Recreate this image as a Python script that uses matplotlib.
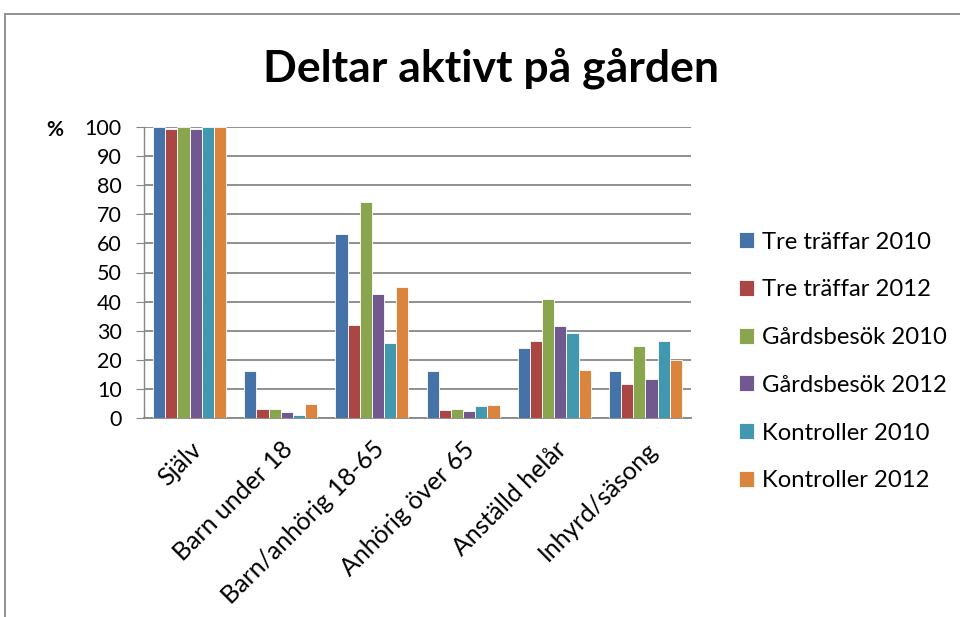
import numpy as np
import matplotlib.pyplot as plt
from matplotlib.patches import Rectangle

plt.rcParams['font.family'] = ['Lato', 'DejaVu Sans']

# ── Data ─────────────────────────────────────────────────────────────────────
categories = ['Själv', 'Barn under 18', 'Barn/anhörig 18-65', 'Anhörig över 65',
              'Anställd helår', 'Inhyrd/säsong']
series_names = ['Tre träffar 2010', 'Tre träffar 2012', 'Gårdsbesök 2010',
                'Gårdsbesök 2012', 'Kontroller 2010', 'Kontroller 2012']

tre_2010 = [100, 16.0, 63.3, 16.0, 24.0, 16.1]
tre_2012 = [99.4, 3.2, 31.9, 2.8, 26.6, 11.6]
gard_2010 = [100, 3.2, 74.3, 3.2, 40.9, 24.9]
gard_2012 = [99.4, 2.1, 42.6, 2.3, 31.6, 13.3]
kontr_2010 = [100, 0.9, 25.7, 4.1, 29.3, 26.6]
kontr_2012 = [100, 4.9, 45.1, 4.6, 16.4, 19.9]
series = [tre_2010, tre_2012, gard_2010, gard_2012, kontr_2010, kontr_2012]

colors = ['#4572A7', '#AA4643', '#89A54E', '#71588F', '#4198AF', '#DB843D']

# ── Figur ────────────────────────────────────────────────────────────────────
fig = plt.figure(figsize=(9.6, 6.17), dpi=100)
ax = fig.add_axes([144/960, 1 - 418/617, 547/960, 291/617])

x = np.arange(len(categories))
n = len(series)
bw = 0.8 / n
for i, (vals, c, name) in enumerate(zip(series, colors, series_names)):
    ax.bar(x - 0.4 + bw*(i + 0.5), vals, width=bw, color=c,
           edgecolor='#ffffff', linewidth=0.6, label=name, zorder=3)

ax.set_xlim(-0.5, len(categories) - 0.5)
ax.set_ylim(0, 100)
ax.set_yticks(range(0, 101, 10))
ax.yaxis.grid(True, color='#878787', linewidth=1.3, zorder=0)
ax.set_axisbelow(True)
for s in ['top', 'right']:
    ax.spines[s].set_visible(False)
ax.spines['left'].set_color('#878787')
ax.spines['bottom'].set_color('#878787')
ax.spines['left'].set_linewidth(1.0)
ax.spines['bottom'].set_linewidth(1.3)
ax.tick_params(axis='y', length=6, color='#878787', labelsize=15.5, pad=10)
ax.tick_params(axis='x', length=0, labelsize=18, pad=14)
ax.set_xticks(x)
ax.set_xticklabels(categories, rotation=45, ha='right', rotation_mode='anchor')

fig.text(55/960, 1 - 130/617, '%', fontsize=15, fontweight='bold', ha='center', va='center')

fig.text(491/960, 1 - 68/617, 'Deltar aktivt på gården', fontsize=32,
         fontweight='bold', ha='center', va='center')

# Legend
leg = fig.legend(loc='upper left', bbox_to_anchor=(729/960, 1 - 222/617),
                 frameon=False, fontsize=17.2, handlelength=0.65, handleheight=0.65,
                 handletextpad=0.35, labelspacing=1.12, borderaxespad=0)

# Chart frame (right and bottom edges fall outside the picture)
fig.patches.append(Rectangle((5/960, -0.05), 1.2, 1.05 - 14/617, transform=fig.transFigure,
                             fill=False, edgecolor='#888888', linewidth=1.3))

plt.savefig('out.png', dpi=100)
